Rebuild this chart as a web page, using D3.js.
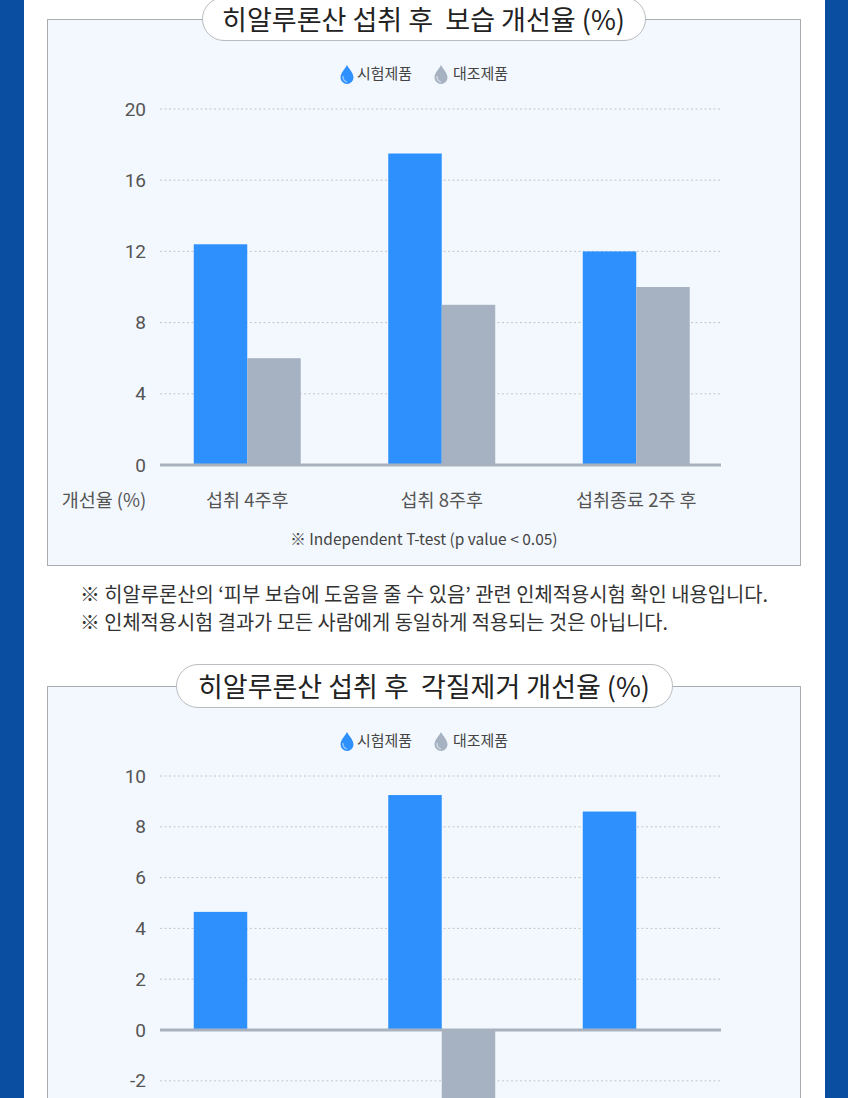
<!DOCTYPE html>
<html>
<head>
<meta charset="utf-8">
<script src="https://cdn.jsdelivr.net/npm/d3@7"></script>
<style>
  html, body { margin: 0; padding: 0; background: #fff; }
  svg { display: block; font-family: "Noto Sans CJK KR", "Noto Sans", sans-serif; }
  svg text { white-space: pre; }
</style>
</head>
<body>
<div id="chart"></div>
<script>
// series + categories
var seriesNames = ["시험제품", "대조제품"];
var categories = ["섭취 4주후", "섭취 8주후", "섭취종료 2주 후"];

// chart 1 : moisture
var moistTest = [12.4, 17.5, 12];
var moistControl = [6, 9, 10];
var moistTicks = [0, 4, 8, 12, 16, 20];

// chart 2 : exfoliation
var exfolTest = [4.65, 9.25, 8.6];
var exfolControl = [0, -3.2, 0];
var exfolTicks = [-2, 0, 2, 4, 6, 8, 10];

var notes = [
    "※ 히알루론산의 ‘피부 보습에 도움을 줄 수 있음’ 관련 인체적용시험 확인 내용입니다.",
    "※ 인체적용시험 결과가 모든 사람에게 동일하게 적용되는 것은 아닙니다."
];

var W = 848, H = 1098;
var blue = "#2e90fd", grey = "#a6b2c2";

var svg = d3.select("#chart").append("svg")
    .attr("width", W)
    .attr("height", H);

// side bands
svg.append("rect").attr("x", 0).attr("y", 0).attr("width", 24).attr("height", H).attr("fill", "#0a4ea2");
svg.append("rect").attr("x", 825).attr("y", 0).attr("width", 23).attr("height", H).attr("fill", "#0a4ea2");

function drop(g, x, y, color) {
    // little water drop for the legend
    g.append("path")
        .attr("transform", "translate(" + x + "," + y + ")")
        .attr("d", "M0,-9 C2,-5 6.5,-1 6.5,3.5 A6.5,6.5 0 0 1 -6.5,3.5 C-6.5,-1 -2,-5 0,-9 Z")
        .attr("fill", color);
    g.append("path")
        .attr("transform", "translate(" + x + "," + y + ")")
        .attr("d", "M-4,2 C-4.5,5 -2.5,7.5 0,8")
        .attr("fill", "none")
        .attr("stroke", "#fff")
        .attr("stroke-opacity", 0.5)
        .attr("stroke-width", 1.4);
}

function drawChart(opt) {
    var g = svg.append("g");
    var top = opt.top;

    // panel
    g.append("rect")
        .attr("x", 47.5).attr("y", top + 0.5)
        .attr("width", 753).attr("height", opt.panelH)
        .attr("fill", "#f3f8fe")
        .attr("stroke", "#a9acb1");

    // title pill
    g.append("rect")
        .attr("x", opt.pillX + 0.5).attr("y", top - 21.5)
        .attr("width", opt.pillW).attr("height", 43)
        .attr("rx", 21.5)
        .attr("fill", "#fff")
        .attr("stroke", "#b9bcc1");
    g.append("text")
        .attr("x", opt.pillX + opt.pillW / 2).attr("y", top + 1)
        .attr("dy", "0.36em")
        .attr("text-anchor", "middle")
        .attr("font-size", 27)
        .attr("fill", "#222")
        .attr("textLength", opt.titleW)
        .attr("lengthAdjust", "spacingAndGlyphs")
        .text(opt.title);

    // legend
    var lg = g.append("g");
    var ly = top + 55;
    drop(lg, 347, ly, blue);
    lg.append("text").attr("x", 357).attr("y", ly).attr("dy", "0.35em")
        .attr("font-size", 15).attr("fill", "#444")
        .attr("textLength", 55).attr("lengthAdjust", "spacingAndGlyphs")
        .text(seriesNames[0]);
    drop(lg, 441, ly, grey);
    lg.append("text").attr("x", 453).attr("y", ly).attr("dy", "0.35em")
        .attr("font-size", 15).attr("fill", "#444")
        .attr("textLength", 55).attr("lengthAdjust", "spacingAndGlyphs")
        .text(seriesNames[1]);

    var x0 = d3.scaleBand().domain(categories).range([150, 733.5]);
    var x1 = d3.scaleBand().domain(seriesNames).range([0, 107]);
    var y = d3.scaleLinear().domain(opt.yRef).range(opt.yPix);

    // dotted grid
    g.append("g").selectAll("line")
        .data(opt.ticks.filter(function (d) { return d !== 0; }))
        .join("line")
        .attr("x1", 160).attr("x2", 721)
        .attr("y1", function (d) { return y(d); })
        .attr("y2", function (d) { return y(d); })
        .attr("stroke", "#c3c6ca")
        .attr("stroke-dasharray", "2,2.5");

    // y axis labels
    var yAxis = d3.axisLeft(y).tickValues(opt.ticks).tickSize(0).tickPadding(0)
        .tickFormat(function (d) { return String(d); });
    var ya = g.append("g").attr("transform", "translate(146,0)").call(yAxis);
    ya.select(".domain").remove();
    ya.selectAll("text")
        .attr("font-size", 19)
        .attr("fill", "#555")
        .attr("font-family", "Roboto, 'Noto Sans', sans-serif");

    // bars
    var rows = categories.map(function (c, i) {
        return [
            { cat: c, s: seriesNames[0], v: opt.test[i] },
            { cat: c, s: seriesNames[1], v: opt.control[i] }
        ];
    });
    g.append("g").selectAll("g")
        .data(rows)
        .join("g")
        .attr("transform", function (d) { return "translate(" + (x0(d[0].cat) + x0.bandwidth() / 2 - 53.5) + ",0)"; })
        .selectAll("rect")
        .data(function (d) { return d.filter(function (e) { return e.v !== 0; }); })
        .join("rect")
        .attr("x", function (d) { return x1(d.s); })
        .attr("width", x1.bandwidth())
        .attr("y", function (d) { return Math.min(y(d.v), y(0)); })
        .attr("height", function (d) { return Math.abs(y(d.v) - y(0)); })
        .attr("fill", function (d) { return d.s === seriesNames[0] ? blue : grey; });

    // zero line
    g.append("line")
        .attr("x1", 160).attr("x2", 721)
        .attr("y1", y(0)).attr("y2", y(0))
        .attr("stroke", "#a8b1be")
        .attr("stroke-width", 3);

    if (opt.showX) {
        var xa = g.append("g");
        xa.selectAll("text")
            .data(categories)
            .join("text")
            .attr("x", function (d) { return x0(d) + x0.bandwidth() / 2; })
            .attr("y", y(0) + 36)
            .attr("dy", "0.35em")
            .attr("text-anchor", "middle")
            .attr("font-size", 18.5)
            .attr("fill", "#555")
            .text(function (d) { return d; });
        xa.append("text")
            .attr("x", 104).attr("y", y(0) + 36).attr("dy", "0.35em")
            .attr("text-anchor", "middle")
            .attr("font-size", 18.5).attr("fill", "#555")
            .text("개선율 (%)");
        xa.append("text")
            .attr("x", 424).attr("y", y(0) + 75).attr("dy", "0.35em")
            .attr("text-anchor", "middle")
            .attr("font-size", 15.5).attr("fill", "#444")
            .text("※ Independent T-test (p value < 0.05)");
    }
}

drawChart({
    top: 19, panelH: 546,
    pillX: 202, pillW: 443, titleW: 403,
    title: "히알루론산 섭취 후  보습 개선율 (%)",
    test: moistTest, control: moistControl, ticks: moistTicks,
    yRef: [0, 20], yPix: [465, 109],
    showX: true
});

drawChart({
    top: 686, panelH: 500,
    pillX: 176, pillW: 496, titleW: 452,
    title: "히알루론산 섭취 후  각질제거 개선율 (%)",
    test: exfolTest, control: exfolControl, ticks: exfolTicks,
    yRef: [0, 10], yPix: [1030, 776],
    showX: false
});

// notes under chart 1
svg.append("g").selectAll("text")
    .data(notes)
    .join("text")
    .attr("x", 80)
    .attr("y", function (d, i) { return 595 + i * 28; })
    .attr("dy", "0.35em")
    .attr("font-size", 20)
    .attr("fill", "#333")
    .attr("textLength", function (d, i) { return i === 0 ? 688 : 588; })
    .attr("lengthAdjust", "spacingAndGlyphs")
    .text(function (d) { return d; });
</script>
</body>
</html>
